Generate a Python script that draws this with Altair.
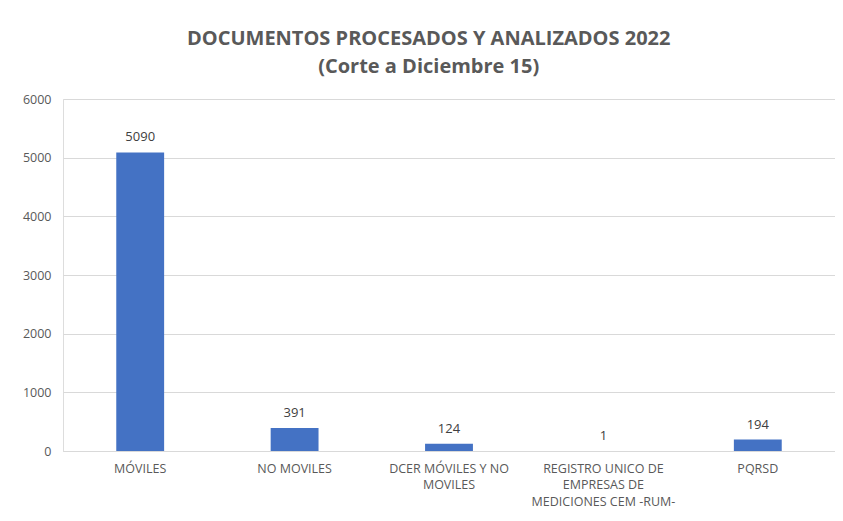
import altair as alt
import pandas as pd

categories = ["MÓVILES", "NO MOVILES", "DCER MÓVILES Y NO MOVILES",
              "REGISTRO UNICO DE EMPRESAS DE MEDICIONES CEM -RUM-", "PQRSD"]
wrapped = ["MÓVILES", "NO MOVILES", "DCER MÓVILES Y NO|MOVILES",
           "REGISTRO UNICO DE|EMPRESAS DE|MEDICIONES CEM -RUM-", "PQRSD"]
values = [5090, 391, 124, 1, 194]

df = pd.DataFrame({"cat": categories, "value": values, "wrapped": wrapped})

label_map = "{" + ",".join(f"'{c}':'{w}'" for c, w in zip(categories, wrapped)) + "}"

FONT = "Open Sans"
GRAY = "#595959"

x = alt.X("cat:N", sort=categories, title=None,
          scale=alt.Scale(paddingInner=0.69, paddingOuter=0.345),
          axis=alt.Axis(labelAngle=0, labelExpr=f"split({label_map}[datum.label], '|')",
                        labelFont=FONT, labelFontSize=12.5, labelColor=GRAY,
                        labelLineHeight=16.5, labelPadding=11, ticks=False,
                        domainColor="#d9d9d9", labelLimit=300))
y = alt.Y("value:Q", title=None,
          scale=alt.Scale(domain=[0, 6000]),
          axis=alt.Axis(values=[0, 1000, 2000, 3000, 4000, 5000, 6000], format="d",
                        labelFont=FONT, labelFontSize=12.5, labelColor=GRAY,
                        labelPadding=12, ticks=False, domain=False,
                        gridColor="#d9d9d9"))

base = alt.Chart(df)
bars = base.mark_bar(color="#4472C4").encode(x=x, y=y)
text = base.mark_text(dy=-8, baseline="bottom", font=FONT, fontSize=13,
                      color="#404040").encode(x=x, y=y, text="value:Q")

chart = (bars + text).properties(
    width=772, height=352,
    title=alt.TitleParams(
        text=["DOCUMENTOS PROCESADOS Y ANALIZADOS 2022", "(Corte a Diciembre 15)"],
        font=FONT, fontSize=20, fontWeight="bold", color=GRAY,
        anchor="middle", frame="bounds", lineHeight=28, offset=16),
    autosize=alt.AutoSizeParams(type="none"),
    padding={"left": 55, "top": 91, "right": 0, "bottom": 60},
).configure_view(stroke=None).configure(background="white")

chart.save("out.html", embed_options={"renderer": "svg", "actions": False})
